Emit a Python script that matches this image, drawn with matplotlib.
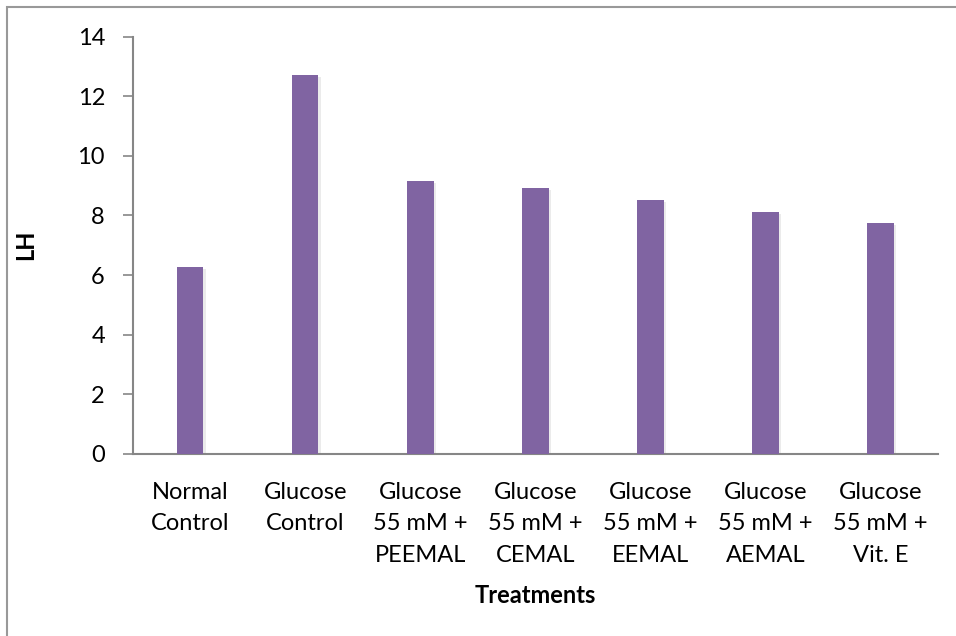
import matplotlib
matplotlib.use("Agg")
import matplotlib.pyplot as plt
import matplotlib.patheffects as pe
from matplotlib.patches import Rectangle

plt.rcParams['font.family'] = ['Lato', 'DejaVu Sans']

# LH por tratamento
categorias = [
    "Normal\nControl",
    "Glucose\nControl",
    "Glucose\n55 mM +\nPEEMAL",
    "Glucose\n55 mM +\nCEMAL",
    "Glucose\n55 mM +\nEEMAL",
    "Glucose\n55 mM +\nAEMAL",
    "Glucose\n55 mM +\nVit. E",
]
lh = [6.27, 12.72, 9.15, 8.93, 8.53, 8.11, 7.74]
y_ticks = [0, 2, 4, 6, 8, 10, 12, 14]

cor_barra = "#8064A2"
cor_eixo = "#868686"
fs = 17

fig = plt.figure(figsize=(9.56, 6.36), dpi=100)
ax = fig.add_axes([0.1388, 0.2862, 0.8424, 0.6564])

x = list(range(len(categorias)))
barras = ax.bar(x, lh, width=0.23, color=cor_barra, zorder=3)
for b in barras:
    b.set_path_effects([
        pe.SimplePatchShadow(offset=(1.5, -1.5), shadow_rgbFace="#7f7f7f", alpha=0.15),
        pe.Normal(),
    ])

ax.set_xlim(-0.5, len(categorias) - 0.5)
ax.set_ylim(0, 14)
ax.set_yticks(y_ticks)
ax.set_xticks(x)
ax.set_xticklabels(categorias, fontsize=fs, linespacing=1.62)
ax.tick_params(axis="y", labelsize=fs, length=7, width=1.2, color=cor_eixo, pad=13)
ax.tick_params(axis="x", length=0, pad=20)

for lado in ("top", "right"):
    ax.spines[lado].set_visible(False)
for lado in ("left", "bottom"):
    ax.spines[lado].set_color(cor_eixo)
    ax.spines[lado].set_linewidth(1.5)

ax.set_ylabel("LH", fontsize=fs, fontweight="bold", labelpad=29)
ax.set_xlabel("Treatments", fontsize=fs, fontweight="bold", labelpad=13)

# moldura do gráfico (lado esquerdo e superior)
fig.patches.append(Rectangle((7 / 956, -0.1), 1.2, 1.1 - 7 / 636,
                             transform=fig.transFigure, fill=False,
                             edgecolor="#999999", linewidth=1.5))

fig.savefig("out.png", dpi=100)
